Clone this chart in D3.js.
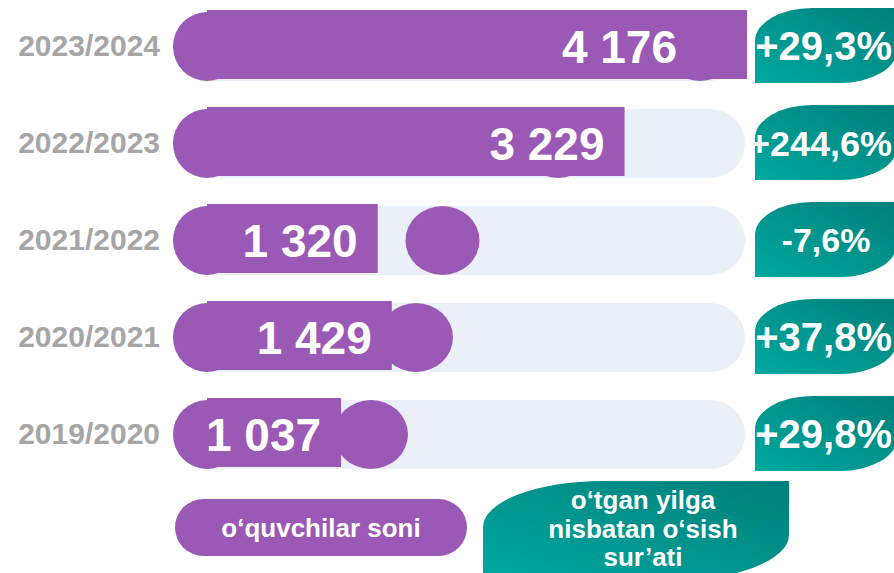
<!DOCTYPE html>
<html>
<head>
<meta charset="utf-8">
<script src="https://cdn.jsdelivr.net/npm/d3@7"></script>
<style>
  html, body { margin: 0; padding: 0; background: #ffffff; }
  svg { display: block; }
  text { font-family: "Liberation Sans", Arial, sans-serif; font-weight: bold; }
</style>
</head>
<body>
<script>
// ---- data ----
const years = ["2023/2024", "2022/2023", "2021/2022", "2020/2021", "2019/2020"];
const students = [4176, 3229, 1320, 1429, 1037];
const growth = [29.3, 244.6, -7.6, 37.8, 29.8];
const knobValues = [3813, 2714, 1821, 1616, 1268];
const legendStudents = "o‘quvchilar soni";
const legendGrowth = ["o‘tgan yilga", "nisbatan o‘sish", "sur’ati"];

// ---- setup ----
const W = 894, H = 573;
const purple = "#9b59b6", track = "#ebeff7", gray = "#a6a6a6";
const loc = d3.formatLocale({ decimal: ",", thousands: " ", grouping: [3], currency: ["", ""], minus: "-" });
const fmtNum = loc.format(",d");
const fmtPct = v => loc.format("+.1f")(v) + "%";

const svg = d3.select("body").append("svg").attr("width", W).attr("height", H);
svg.append("rect").attr("width", W).attr("height", H).attr("fill", "#fff");

const defs = svg.append("defs");
const grad = defs.append("linearGradient").attr("id", "teal")
  .attr("x1", 0).attr("y1", 1).attr("x2", 1).attr("y2", 0);
grad.append("stop").attr("offset", "0%").attr("stop-color", "#00a99f");
grad.append("stop").attr("offset", "100%").attr("stop-color", "#007f7b");

const x = d3.scaleLinear().domain([0, d3.max(students)]).range([207, 747]);
const y = d3.scalePoint().domain(years).range([46.5, 434.5]);

const barH = 69, capR = 34, knobRx = 37;

function badgePath(x0, y0, w, h, rx, ry) {
  return `M${x0},${y0 + h} L${x0},${y0 + ry} A${rx},${ry} 0 0 1 ${x0 + rx},${y0} ` +
         `L${x0 + w},${y0} L${x0 + w},${y0 + h - ry} A${rx},${ry} 0 0 1 ${x0 + w - rx},${y0 + h} Z`;
}

const rows = years.map((yr, i) => ({ yr, v: students[i], g: growth[i], k: knobValues[i] }));
const g = svg.append("g");
const row = g.selectAll("g.row").data(rows).join("g").attr("class", "row");

// track
row.append("rect")
  .attr("x", x(0) - capR).attr("y", d => y(d.yr) - barH / 2)
  .attr("width", x.range()[1] - 2 - (x(0) - capR)).attr("height", barH)
  .attr("rx", barH / 2).attr("ry", barH / 2).attr("fill", track);

// knob ellipse
row.append("ellipse")
  .attr("cx", d => x(d.k)).attr("cy", d => y(d.yr))
  .attr("rx", knobRx).attr("ry", barH / 2).attr("fill", purple);

// left cap
row.append("ellipse")
  .attr("cx", x(0)).attr("cy", d => y(d.yr))
  .attr("rx", capR).attr("ry", barH / 2).attr("fill", purple);

// bar
row.append("rect")
  .attr("x", x(0)).attr("y", d => y(d.yr) - barH / 2 - 2)
  .attr("width", d => x(d.v) - x(0)).attr("height", barH)
  .attr("fill", purple);

// value label
row.append("text")
  .attr("x", d => Math.min(x(d.v) - 20, x.range()[1] - 70))
  .attr("y", d => y(d.yr) + 16.5)
  .attr("text-anchor", "end").attr("font-size", 46).attr("fill", "#fff")
  .text(d => fmtNum(d.v));

// year label
row.append("text")
  .attr("x", 160).attr("y", d => y(d.yr) + 9.5)
  .attr("text-anchor", "end").attr("font-size", 30).attr("fill", gray)
  .text(d => d.yr);

// growth badge
const bx0 = x.range()[1] + 8, bw = 142, bh = 75;
row.append("path")
  .attr("d", d => badgePath(bx0, y(d.yr) - 1 - bh / 2, bw, bh, 57, 33))
  .attr("fill", "url(#teal)");
const pct = row.append("text")
  .attr("x", bx0 + 71)
  .attr("y", d => y(d.yr) - 1 + (d.g < 0 ? 12 : 14.5))
  .attr("text-anchor", "middle").attr("font-size", d => d.g < 0 ? 34 : 40).attr("fill", "#fff")
  .text(d => fmtPct(d.g));
// keep the growth text inside the picture: shrink and right-align when it would overflow
pct.each(function () {
  const t = d3.select(this);
  const fs = +t.attr("font-size");
  const len = this.getComputedTextLength();
  const cx = +t.attr("x");
  if (cx + len / 2 > W - 2) {
    const maxLen = (W - 2) - (bx0 - 6);
    const nfs = Math.min(fs, fs * maxLen / len);
    t.attr("font-size", nfs).attr("text-anchor", "end").attr("x", W - 2)
     .attr("y", +t.attr("y") - (fs - nfs) * 0.36);
  }
});

// ---- legend ----
const leg = svg.append("g");
leg.append("rect").attr("x", 175).attr("y", 499).attr("width", 292).attr("height", 57)
  .attr("rx", 28.5).attr("ry", 28.5).attr("fill", purple);
leg.append("text").attr("x", 321).attr("y", 537).attr("text-anchor", "middle")
  .attr("font-size", 26).attr("fill", "#fff").text(legendStudents);

leg.append("path").attr("d", badgePath(483, 481, 306, 100, 120, 46)).attr("fill", "url(#teal)");
leg.selectAll("text.l2").data(legendGrowth).join("text").attr("class", "l2")
  .attr("x", 643).attr("y", (d, i) => 509 + i * 28.5)
  .attr("text-anchor", "middle").attr("font-size", 26).attr("fill", "#fff")
  .text(d => d);
</script>
</body>
</html>
